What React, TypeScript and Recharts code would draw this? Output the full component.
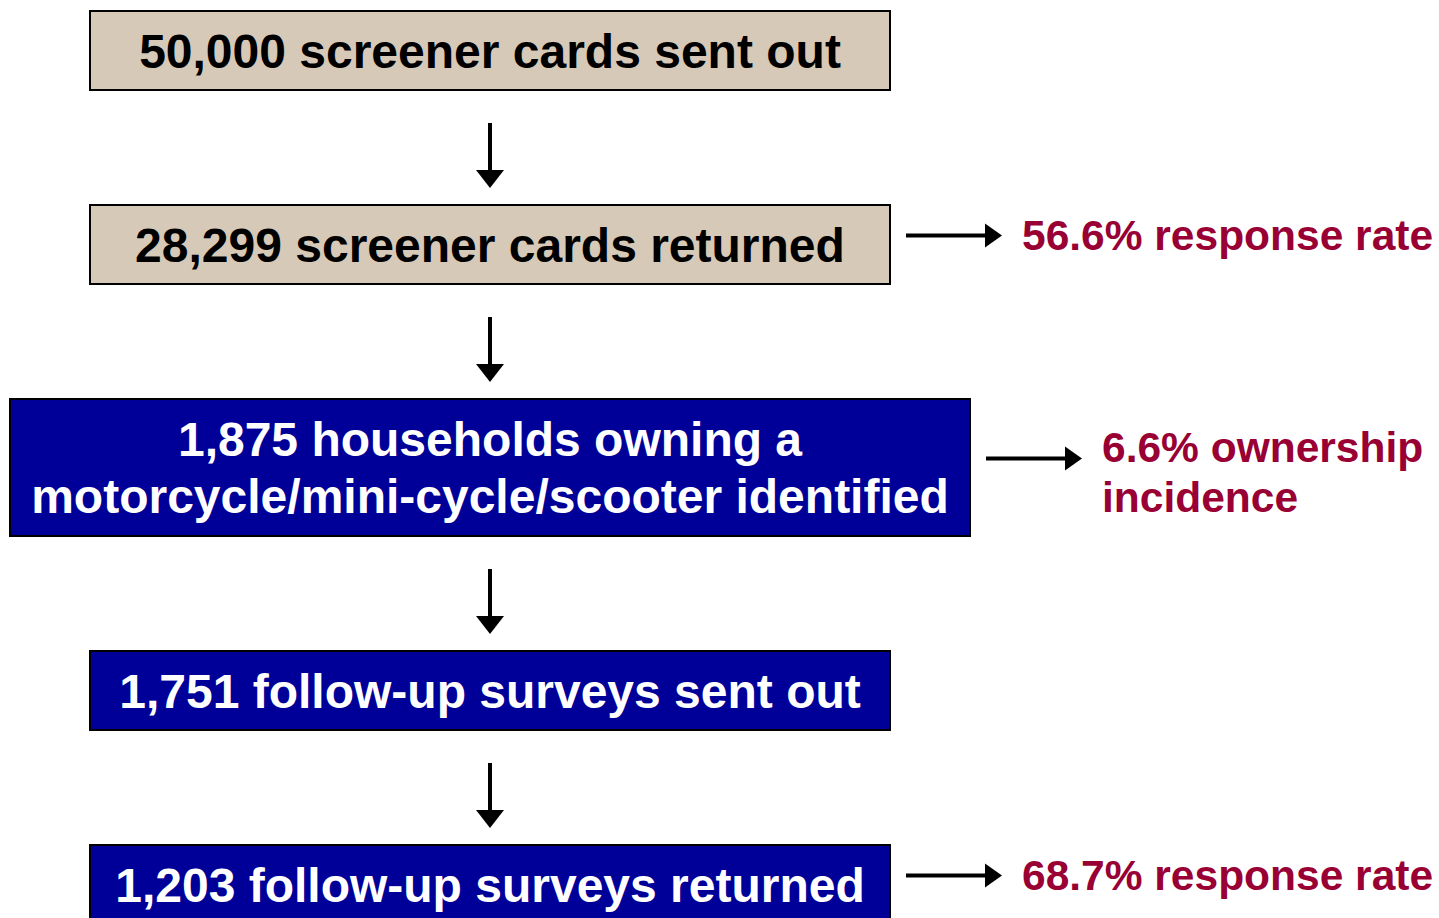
import { ComposedChart, Customized, XAxis, YAxis } from 'recharts';

// flow steps, top to bottom
const stepCounts = [50000, 28299, 1875, 1751, 1203];
const stepLines = [
    ['screener cards sent out'],
    ['screener cards returned'],
    ['households owning a', 'motorcycle/mini-cycle/scooter identified'],
    ['follow-up surveys sent out'],
    ['follow-up surveys returned'],
];
const stepStage = ['screener', 'screener', 'followup', 'followup', 'followup'];

// side notes (percent value + wording), null where there is none
const rateValues = [null, 56.6, 6.6, null, 68.7];
const rateLines = [null, ['response rate'], ['ownership', 'incidence'], null, ['response rate']];

const W = 1439;
const H = 918;
const FONT = '"Liberation Sans", Arial, Helvetica, sans-serif';
const BOX_FS = 48;
const NOTE_FS = 42.5;
const CENTER_X = 490;
const TOP = 11;
const GAP = 115;
const BOX_H = 79;
const BOX_LINE = 57;

const stageFill: Record<string, string> = { screener: '#D7C9B8', followup: '#000099' };
const stageText: Record<string, string> = { screener: '#000000', followup: '#FFFFFF' };

const rows = stepCounts.map((count, i) => {
    const lines = [...stepLines[i]];
    lines[0] = `${count.toLocaleString('en-US')} ${lines[0]}`;
    const note = rateValues[i] == null ? null : [...(rateLines[i] as string[])];
    if (note) note[0] = `${(rateValues[i] as number).toFixed(1)}% ${note[0]}`;
    return { step: i, lines, stage: stepStage[i], note };
});

const FlowDiagram = () => {
    let top = TOP;
    const boxes = rows.map(r => {
        const h = BOX_H + (r.lines.length - 1) * (BOX_LINE + 1);
        const w = r.lines.length > 1 ? 960 : 800;
        const b = { ...r, top, h, w, x: CENTER_X - w / 2, cy: top + h / 2 };
        top += h + GAP;
        return b;
    });

    const cap = BOX_FS * 0.716;
    const noteCap = NOTE_FS * 0.716;

    return (
        <g>
            {boxes.map((b, i) => {
                const next = boxes[i + 1];
                const firstBase = b.cy - ((b.lines.length - 1) * BOX_LINE) / 2 + cap / 2;
                return (
                    <g key={b.step}>
                        <rect x={b.x} y={b.top} width={b.w} height={b.h} fill={stageFill[b.stage]} stroke="#000" strokeWidth={2} />
                        {b.lines.map((ln, j) => (
                            <text
                                key={j}
                                x={CENTER_X}
                                y={firstBase + j * BOX_LINE}
                                textAnchor="middle"
                                fontFamily={FONT}
                                fontWeight="bold"
                                fontSize={BOX_FS}
                                fill={stageText[b.stage]}
                            >
                                {ln}
                            </text>
                        ))}
                        {next && (
                            <g>
                                <line x1={CENTER_X} y1={b.top + b.h + 33} x2={CENTER_X} y2={next.top - 32} stroke="#000" strokeWidth={4} />
                                <path
                                    d={`M${CENTER_X - 14},${next.top - 35} L${CENTER_X + 14},${next.top - 35} L${CENTER_X},${next.top - 17} Z`}
                                    fill="#000"
                                />
                            </g>
                        )}
                        {b.note && (() => {
                            const ay = b.cy - 9;
                            const x0 = b.x + b.w + 16;
                            const tip = x0 + 96;
                            const n = b.note.length;
                            const mid = ay + (n - 1) * 13 - (n === 1 ? 1 : 0);
                            const base0 = mid - ((n - 1) * 50) / 2 + noteCap / 2;
                            return (
                                <g>
                                    <line x1={x0} y1={ay} x2={tip - 15} y2={ay} stroke="#000" strokeWidth={4} />
                                    <path d={`M${tip - 17},${ay - 12} L${tip},${ay} L${tip - 17},${ay + 12} Z`} fill="#000" />
                                    {b.note.map((ln, j) => (
                                        <text
                                            key={j}
                                            x={tip + 20}
                                            y={base0 + j * 50}
                                            fontFamily={FONT}
                                            fontWeight="bold"
                                            fontSize={NOTE_FS}
                                            fill="#990033"
                                        >
                                            {ln}
                                        </text>
                                    ))}
                                </g>
                            );
                        })()}
                    </g>
                );
            })}
        </g>
    );
};

export default function App() {
    return (
        <div style={{ position: 'absolute', left: 0, top: 0, width: W, height: H, background: '#fff', overflow: 'hidden' }}>
            <ComposedChart width={W} height={H} data={rows} margin={{ top: 0, right: 0, bottom: 0, left: 0 }}>
                <XAxis type="number" domain={[0, W]} hide />
                <YAxis type="number" domain={[0, H]} reversed hide />
                <Customized component={<FlowDiagram />} />
            </ComposedChart>
        </div>
    );
}
